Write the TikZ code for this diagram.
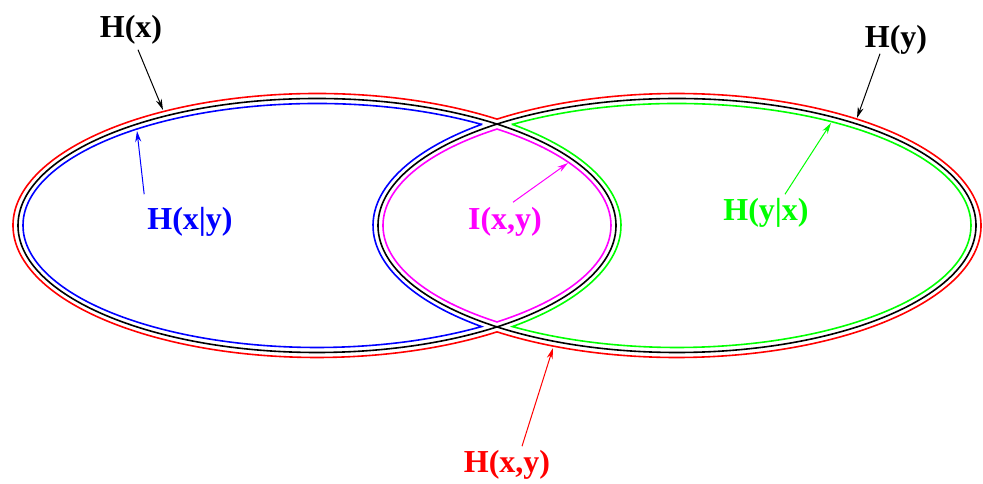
\documentclass[tikz,border=0pt]{standalone}
\usepackage{fontspec}
\setmainfont{Liberation Serif}
\usetikzlibrary{arrows.meta}
\definecolor{mag}{RGB}{255,0,255}
\definecolor{grn}{RGB}{0,255,0}
\definecolor{rd}{RGB}{255,0,0}
\definecolor{bl}{RGB}{0,0,255}
\begin{document}
\begin{tikzpicture}[x=1pt,y=1pt,
  outline/.style={line width=1.6pt},
  lbl/.style={font=\fontsize{32}{32}\selectfont\bfseries, inner sep=1pt},
  pointer/.style={line width=1pt, -{Stealth[length=11pt,width=6pt]}}]
\useasboundingbox (0,0) rectangle (983,484);
% black ellipses
\draw[outline,black] (317,258.5) ellipse [x radius=299, y radius=127];
\draw[outline,black] (677,258.5) ellipse [x radius=299, y radius=127];
% red: H(x,y) outer boundary
\draw[outline,rd] ({317+304*cos(53.69)},{258.5+132*sin(53.69)})
  arc[start angle=53.69,end angle=306.31,x radius=304,y radius=132]
  arc[start angle=-126.31,end angle=126.31,x radius=304,y radius=132] -- cycle;
% blue: H(x|y)
\draw[outline,bl] ({317+294*cos(55.96)},{258.5+122*sin(55.96)})
  arc[start angle=55.96,end angle=304.04,x radius=294,y radius=122]
  arc[start angle=229.99,end angle=130.01,x radius=304,y radius=132] -- cycle;
% green: H(y|x)
\draw[outline,grn] ({677+294*cos(124.04)},{258.5+122*sin(124.04)})
  arc[start angle=124.04,end angle=-124.04,x radius=294,y radius=122]
  arc[start angle=-49.99,end angle=49.99,x radius=304,y radius=132] -- cycle;
% magenta: I(x,y)
\draw[outline,mag] ({317+294*cos(-52.25)},{258.5+122*sin(-52.25)})
  arc[start angle=-52.25,end angle=52.25,x radius=294,y radius=122]
  arc[start angle=127.75,end angle=232.25,x radius=294,y radius=122] -- cycle;
% labels
\node[lbl,black] (hx) at (131,454) {H(x)};
\node[lbl,black] (hy) at (896,444) {H(y)};
\node[lbl,bl] (hxy) at (190,262) {H(x|y)};
\node[lbl,mag] (ixy) at (505,262) {I(x,y)};
\node[lbl,grn] (hyx) at (766,271) {H(y|x)};
\node[lbl,rd] (hj) at (507,19) {H(x,y)};
% arrow tips
\coordinate (hxTip) at (163,374);
\coordinate (hyTip) at (857,366);
\coordinate (hxyTip) at (137,353);
\coordinate (ixyTip) at (568,321);
\coordinate (hyxTip) at (831,361);
\coordinate (hjTip) at (553,136);
% arrows
\draw[pointer,black] ([xshift=7pt,yshift=-4pt]hx.south) -- (hxTip);
\draw[pointer,black] ([xshift=-16pt,yshift=2pt]hy.south) -- (hyTip);
\draw[pointer,bl] ([xshift=-2pt,yshift=12pt]hxy.north west) -- (hxyTip);
\draw[pointer,mag] ([xshift=8pt,yshift=4pt]ixy.north) -- (ixyTip);
\draw[pointer,grn] ([xshift=19pt,yshift=3pt]hyx.north) -- (hyxTip);
\draw[pointer,rd] ([xshift=15pt,yshift=3pt]hj.north) -- (hjTip);
\end{tikzpicture}
\end{document}
